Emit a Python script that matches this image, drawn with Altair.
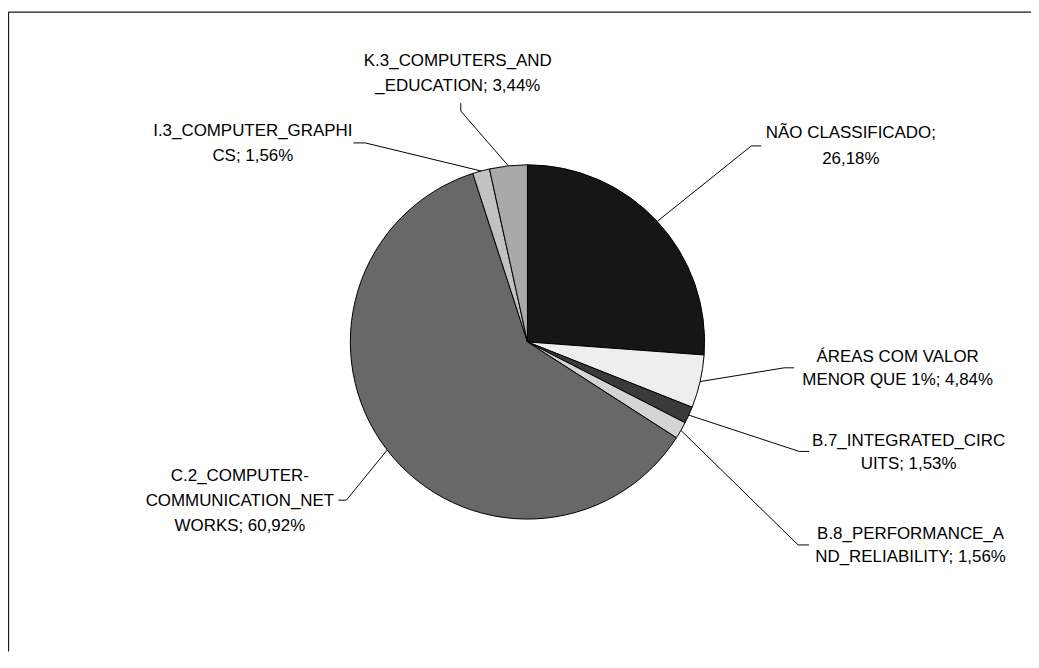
import math
import altair as alt
import pandas as pd

# ---------------- data ----------------
categories = [
    "NÃO CLASSIFICADO",
    "ÁREAS COM VALOR MENOR QUE 1%",
    "B.7_INTEGRATED_CIRCUITS",
    "B.8_PERFORMANCE_AND_RELIABILITY",
    "C.2_COMPUTER-COMMUNICATION_NETWORKS",
    "I.3_COMPUTER_GRAPHICS",
    "K.3_COMPUTERS_AND_EDUCATION",
]
values = [26.18, 4.84, 1.53, 1.56, 60.92, 1.56, 3.44]
label_lines = [
    ["NÃO CLASSIFICADO;", "26,18%"],
    ["ÁREAS COM VALOR", "MENOR QUE 1%; 4,84%"],
    ["B.7_INTEGRATED_CIRC", "UITS; 1,53%"],
    ["B.8_PERFORMANCE_A", "ND_RELIABILITY; 1,56%"],
    ["C.2_COMPUTER-", "COMMUNICATION_NET", "WORKS; 60,92%"],
    ["I.3_COMPUTER_GRAPHI", "CS; 1,56%"],
    ["K.3_COMPUTERS_AND", "_EDUCATION; 3,44%"],
]

# ---------------- styles / layout ----------------
fills = ["#161616", "#eeeeee", "#3a3a3a", "#d4d4d4", "#686868", "#c2c2c2", "#a9a9a9"]
W, H, OFF = 1028, 645, 8
CX, CY, R = 530, 342, 178
label_x = [855, 902, 913, 915, 241, 254, 460]
label_y0 = [137, 362, 447, 540, 482, 135, 65]
line_gap = [26, 23, 23, 23, 25, 25, 25]
stubs = [
    [(765, 145), (755, 145)],
    [(798, 368), (788, 368)],
    [(813, 452), (803, 452)],
    [(813, 546), (802, 546)],
    [(340, 501), (348, 501)],
    [(355, 142), (367, 142)],
    [(463, 102), (463, 110)],
]
FONT = "Liberation Sans"

# ---------------- tables ----------------
pie_df = pd.DataFrame({"cat": categories, "val": values, "ord": list(range(len(values)))})

total = sum(values)
cum = 0.0
line_rows = []
text_rows = []
for i, v in enumerate(values):
    mid = (cum + v / 2) / total * 2 * math.pi
    cum += v
    ax = CX + R * math.sin(mid)
    ay = CY - R * math.cos(mid)
    pts = stubs[i] + [(ax, ay)]
    for k, (px, py) in enumerate(pts):
        line_rows.append({"id": i, "k": k, "px": px, "py": py})
    for j, t in enumerate(label_lines[i]):
        text_rows.append({"t": t, "px": label_x[i], "py": label_y0[i] + j * line_gap[i]})

line_df = pd.DataFrame(line_rows)
text_df = pd.DataFrame(text_rows)
frame_df = pd.DataFrame({
    "x1": [8.5, 8.5], "y1": [10.5, 10.5],
    "x2": [OFF + W, 8.5], "y2": [10.5, OFF + H],
})

xs = alt.Scale(domain=[OFF, OFF + W], nice=False, zero=False)
ys = alt.Scale(domain=[OFF, OFF + H], nice=False, zero=False, reverse=True)

pie = alt.Chart(pie_df).mark_arc(
    radius=R, stroke="black", strokeWidth=1
).encode(
    theta=alt.Theta("val:Q", stack=True),
    order=alt.Order("ord:Q"),
    color=alt.Color("cat:N", scale=alt.Scale(domain=categories, range=fills), legend=None),
    x=alt.value(CX - OFF),
    y=alt.value(CY - OFF),
)

leaders = alt.Chart(line_df).mark_line(color="black", strokeWidth=1).encode(
    x=alt.X("px:Q", scale=xs, axis=None),
    y=alt.Y("py:Q", scale=ys, axis=None),
    detail="id:N",
    order="k:Q",
)

labels = alt.Chart(text_df).mark_text(
    align="center", baseline="alphabetic", font=FONT, fontSize=17, color="black"
).encode(
    x=alt.X("px:Q", scale=xs, axis=None),
    y=alt.Y("py:Q", scale=ys, axis=None),
    text="t:N",
)

frame = alt.Chart(frame_df).mark_rule(color="#1a1a1a", strokeWidth=1.3).encode(
    x=alt.X("x1:Q", scale=xs, axis=None),
    y=alt.Y("y1:Q", scale=ys, axis=None),
    x2="x2:Q",
    y2="y2:Q",
)

chart = alt.layer(frame, pie, leaders, labels).properties(
    width=W, height=H, autosize=alt.AutoSizeParams(type="none"), padding=0,
    background="white",
).configure_view(stroke="transparent", strokeWidth=0)

chart.save("out.html", embed_options={"renderer": "svg", "actions": False})
